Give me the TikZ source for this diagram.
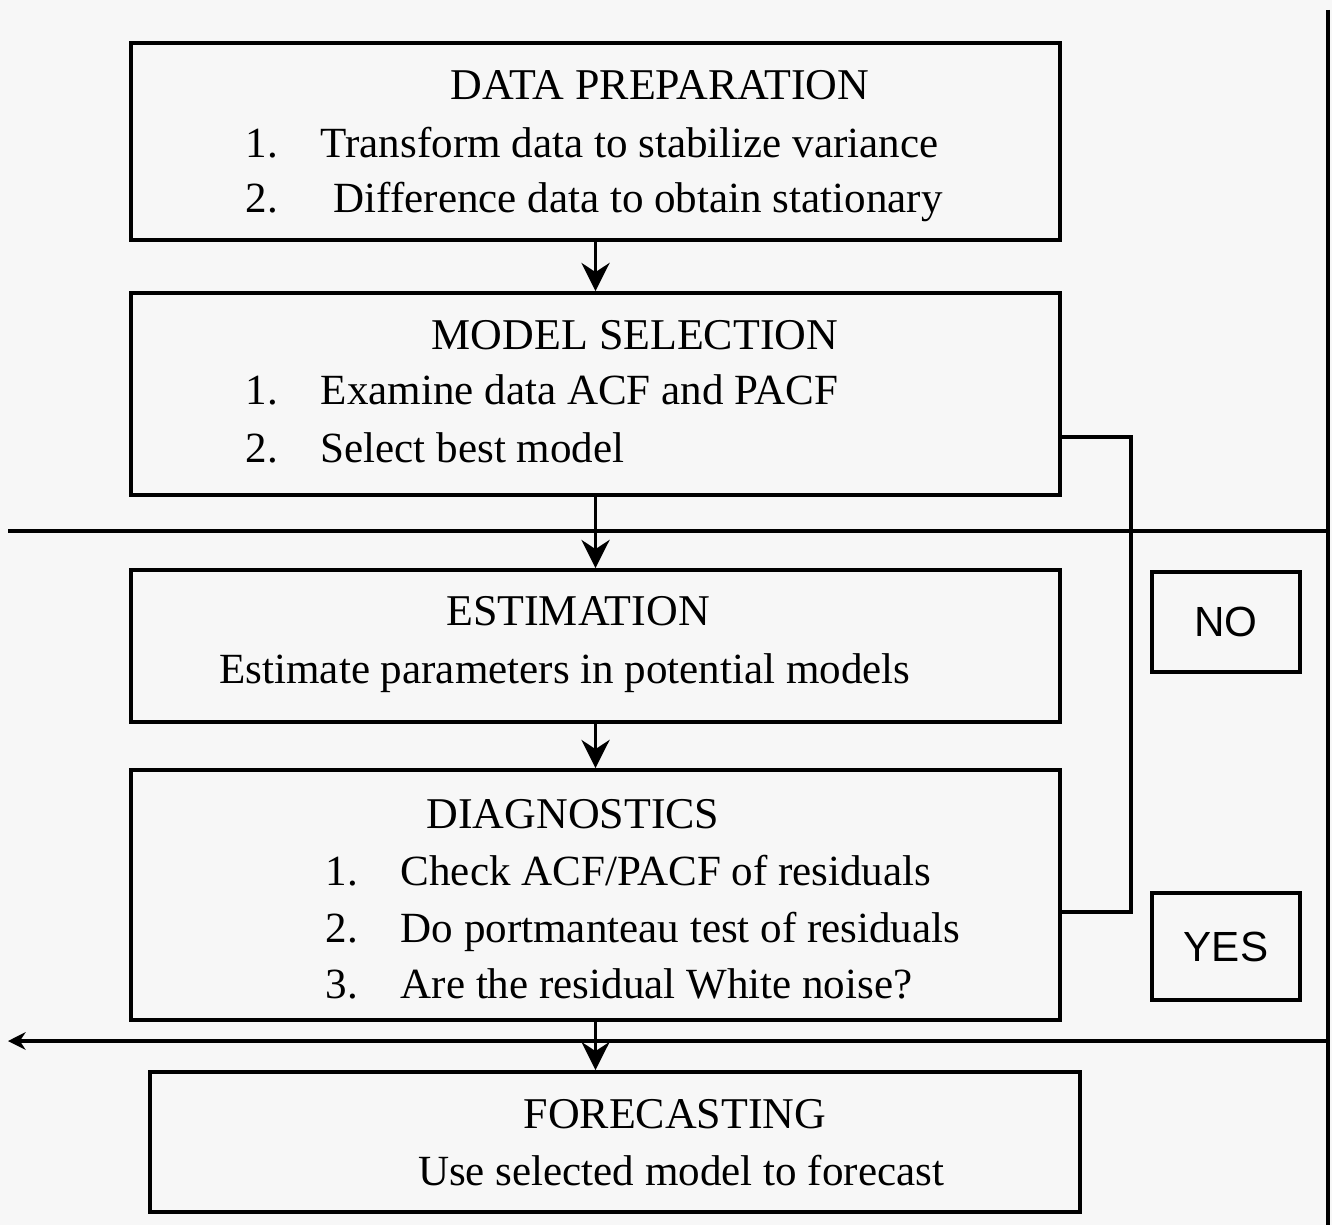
\documentclass[tikz,border=0pt]{standalone}
\usepackage{fontspec}
\setmainfont{Liberation Serif}
\newfontfamily\answerfont{Liberation Sans}
\usetikzlibrary{arrows.meta}

\definecolor{paper}{RGB}{247,247,247}

\tikzset{
  stage/.style={draw, line width=1.1pt, minimum width=9.29cm, inner sep=0pt},
  answer/.style={draw, line width=1.1pt, minimum width=1.48cm, font=\answerfont\fontsize{12}{14}\selectfont},
  flow/.style={-{Stealth[length=8pt,width=8pt]}, line width=1pt},
  rule/.style={line width=1pt},
  head/.style={font=\fontsize{12.5}{15}\selectfont, inner sep=0pt, anchor=base},
  item/.style={font=\fontsize{12.25}{15}\selectfont, inner sep=0pt, anchor=base west},
}

\begin{document}
\begin{tikzpicture}
\fill[paper] (0,0) rectangle (13.32,-12.25);
\useasboundingbox (0,0) rectangle (13.32,-12.25);

\node[stage, minimum height=1.97cm] (dp) at (5.955,-1.415) {};
\node[stage, minimum height=2.02cm] (ms) at (5.955,-3.94) {};
\node[stage, minimum height=1.52cm] (es) at (5.955,-6.46) {};
\node[stage, minimum height=2.50cm] (dg) at (5.955,-8.95) {};
\node[stage, minimum width=9.30cm, minimum height=1.40cm] (fc) at (6.15,-11.42) {};

\node[answer, minimum height=1.00cm] (no) at (12.26,-6.22) {NO};
\node[answer, minimum height=1.07cm] (yes) at (12.26,-9.465) {YES};

\node[head] (dpt) at (6.60,-1.00) {DATA PREPARATION};
\node[item] (dpn1) at (2.45,-1.58) {1.};
\node[item] (dpi1) at (3.20,-1.58) {Transform data to stabilize variance};
\node[item] (dpn2) at (2.45,-2.13) {2.};
\node[item] (dpi2) at (3.33,-2.13) {Difference data to obtain stationary};

\node[head] (mst) at (6.35,-3.50) {MODEL SELECTION};
\node[item] (msn1) at (2.45,-4.05) {1.};
\node[item] (msi1) at (3.20,-4.05) {Examine data ACF and PACF};
\node[item] (msn2) at (2.45,-4.63) {2.};
\node[item] (msi2) at (3.20,-4.63) {Select best model};

\node[head] (est) at (5.78,-6.25) {ESTIMATION};
\node[head, font=\fontsize{12.25}{15}\selectfont] (esi) at (5.65,-6.83) {Estimate parameters in potential models};

\node[head] (dgt) at (5.73,-8.28) {DIAGNOSTICS};
\node[item] (dgn1) at (3.25,-8.85) {1.};
\node[item] (dgi1) at (4.00,-8.85) {Check ACF/PACF of residuals};
\node[item] (dgn2) at (3.25,-9.42) {2.};
\node[item] (dgi2) at (4.00,-9.42) {Do portmanteau test of residuals};
\node[item] (dgn3) at (3.25,-9.98) {3.};
\node[item] (dgi3) at (4.00,-9.98) {Are the residual White noise?};

\node[head] (fct) at (6.75,-11.28) {FORECASTING};
\node[head, font=\fontsize{12.25}{15}\selectfont] (fci) at (6.81,-11.85) {Use selected model to forecast};

\coordinate (lpa) at (11.31,-4.37);
\coordinate (lpb) at (11.31,-9.12);
\coordinate (ta) at (0.08,-5.31);
\coordinate (tb) at (13.28,-5.31);
\coordinate (ba) at (0.08,-10.41);
\coordinate (bb) at (13.28,-10.41);
\coordinate (ra) at (13.28,-0.10);
\coordinate (rb) at (13.28,-12.25);

\draw[flow] (dp.south) -- (ms.north);
\draw[flow] (ms.south) -- (es.north);
\draw[flow] (es.south) -- (dg.north);
\draw[flow] (dg.south) -- (dg.south |- fc.north);

\draw[rule] (ms.east |- lpa) -- (lpa) -- (lpb) -- (dg.east |- lpb);

\draw[rule] (ta) -- (tb);
\draw[rule, {Stealth[length=5pt,width=5pt]}-] (ba) -- (bb);
\draw[rule] (ra) -- (rb);
\end{tikzpicture}
\end{document}
